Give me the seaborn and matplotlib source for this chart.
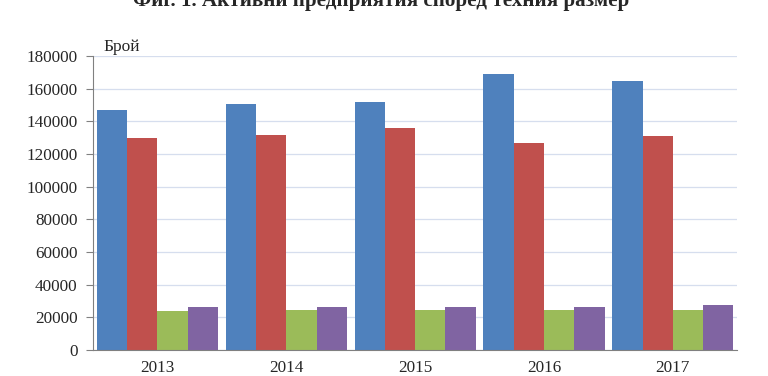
import pandas as pd
import seaborn as sns
import matplotlib.pyplot as plt

years = ["2013", "2014", "2015", "2016", "2017"]
sizes = ["Микро", "Малки", "Средни", "Големи"]
mikro = [147000, 150500, 152000, 169000, 165000]
malki = [130000, 131800, 135800, 126800, 130800]
sredni = [23900, 24700, 24700, 24700, 24700]
golemi = [26300, 26300, 26300, 26300, 27400]
colors = ["#4F81BD", "#C0504D", "#9BBB59", "#8064A2"]

rows = []
for s, vals in zip(sizes, [mikro, malki, sredni, golemi]):
    for y, v in zip(years, vals):
        rows.append({"year": y, "size": s, "value": v})
df = pd.DataFrame(rows)

sns.set_style("white")
plt.rcParams["font.family"] = ["Liberation Serif", "DejaVu Serif"]

fig = plt.figure(figsize=(7.68, 3.76), dpi=100)
ax = fig.add_axes([0.121, 0.069, 0.839, 0.782])

sns.barplot(data=df, x="year", y="value", hue="size", palette=colors,
            width=0.94, saturation=1, linewidth=0, legend=False, ax=ax)

ax.set_xlim(-0.5, 4.5)
ax.set_ylim(0, 180000)
ax.set_yticks(range(0, 180001, 20000))
ax.set_yticklabels([str(v) for v in range(0, 180001, 20000)], fontsize=12.3)
ax.set_xticks(range(5))
ax.set_xticklabels(years, fontsize=12.3)
ax.set_xticks([i - 0.5 for i in range(6)], minor=True)
ax.tick_params(axis="x", which="major", length=0, pad=7)
ax.tick_params(axis="x", which="minor", length=5, color="#808080", width=0.8)
ax.tick_params(axis="y", length=5, color="#808080", width=0.8, left=True, pad=6)
ax.set_xlabel("")
ax.set_ylabel("")

ax.grid(axis="y", color="#D6DEEE", linewidth=0.9)
ax.set_axisbelow(True)
for side in ["top", "right"]:
    ax.spines[side].set_visible(False)
for side in ["left", "bottom"]:
    ax.spines[side].set_color("#808080")
    ax.spines[side].set_linewidth(0.8)

fig.text(103 / 768, 1 - 51 / 376, "Брой", fontsize=12.5, va="baseline")
# the reference crops the title at the top edge, keep it that way
fig.text(381 / 768, 1 - 6 / 376, "Фиг. 1. Активни предприятия според техния размер",
         fontsize=15.2, fontweight="bold", ha="center", va="baseline")

fig.savefig("out.png", dpi=100)
